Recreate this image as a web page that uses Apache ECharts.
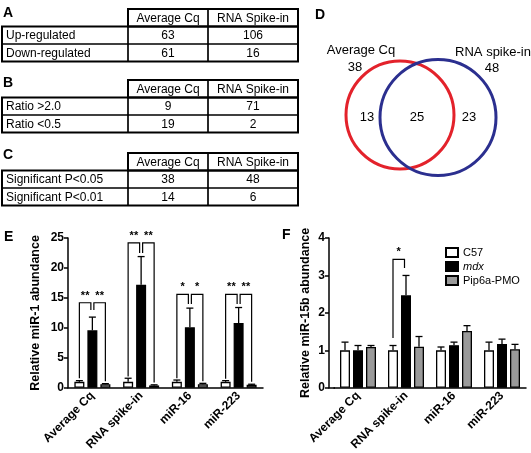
<!DOCTYPE html>
<html>
<head>
<meta charset="utf-8">
<script src="https://cdn.jsdelivr.net/npm/echarts@6/dist/echarts.min.js"></script>
<style>html,body{margin:0;padding:0;background:#fff}#main{width:531px;height:453px}</style>
</head>
<body>
<div id="main"></div>
<script>
// tables A-C
var tableHead = ['Average Cq', 'RNA Spike-in'];
var rowsA = ['Up-regulated', 'Down-regulated'], avgA = [63, 61], spikeA = [106, 16];
var rowsB = ['Ratio >2.0', 'Ratio <0.5'], avgB = [9, 19], spikeB = [71, 2];
var rowsC = ['Significant P<0.05', 'Significant P<0.01'], avgC = [38, 14], spikeC = [48, 6];

// venn D
var vennSets = ['Average Cq', 'RNA spike-in'];
var vennTotals = [38, 48];
var vennOnlyAvg = 13, vennBoth = 25, vennOnlySpike = 23;

// bar charts E / F
var cats = ['Average Cq', 'RNA spike-in', 'miR-16', 'miR-223'];
var groups = ['C57', 'mdx', 'Pip6a-PMO'];

var miR1_c57 = [1.0, 1.0, 1.0, 1.0];
var miR1_c57Err = [0.2, 0.6, 0.3, 0.2];
var miR1_mdx = [9.6, 17.2, 10.1, 10.8];
var miR1_mdxErr = [2.2, 4.7, 3.2, 2.6];
var miR1_pip = [0.6, 0.4, 0.6, 0.5];
var miR1_pipErr = [0.1, 0.1, 0.15, 0.1];

var miR15b_c57 = [1.0, 1.0, 1.0, 1.0];
var miR15b_c57Err = [0.22, 0.13, 0.09, 0.22];
var miR15b_mdx = [1.0, 2.47, 1.14, 1.17];
var miR15b_mdxErr = [0.13, 0.53, 0.08, 0.13];
var miR15b_pip = [1.09, 1.1, 1.52, 1.03];
var miR15b_pipErr = [0.04, 0.27, 0.14, 0.13];

// significance brackets: [category, side (0 = C57 vs mdx, 1 = mdx vs Pip6a), level, outer leg end, inner leg end]
var sigE = [[0, 0, 14.2, 1.6, 13.0], [0, 1, 14.2, 1.1, 13.0],
            [1, 0, 24.2, 1.9, 22.5], [1, 1, 24.2, 0.9, 22.5],
            [2, 0, 15.6, 1.6, 14.0], [2, 1, 15.6, 1.1, 14.0],
            [3, 0, 15.6, 1.5, 14.0], [3, 1, 15.6, 1.0, 14.0]];
var sigELabels = ['**', '**', '**', '**', '*', '*', '**', '**'];
var sigF = [[1, 0, 3.43, 1.33, 3.2]];
var sigFLabels = ['*'];

var FONT = '"Liberation Sans", Arial, sans-serif';
var BAR_W = 10, BAR_GAP = 3, STEP = BAR_W + BAR_GAP;
var colors = ['#ffffff', '#000000', '#9a9a9a'];

var myChart = echarts.init(document.getElementById('main'));

/* tables as graphic elements */
function rect(x, y, w, h, lw) {
	return { type: 'rect', shape: { x: x, y: y, width: w, height: h },
		style: { fill: 'none', stroke: '#000', lineWidth: lw } };
}
function txt(s, x, y, align, size, bold) {
	return { type: 'text', style: { text: String(s), x: x, y: y, align: align, verticalAlign: 'middle',
		fontFamily: FONT, fontSize: size, fontWeight: bold ? 'bold' : 'normal', fill: '#000' } };
}
function makeTable(top, rows, avg, spike) {
	var x0 = 2, x1 = 128, x2 = 208, x3 = 298, h = 17.5;
	var els = [];
	els.push(rect(x1, top, x2 - x1, h, 1.2), rect(x2, top, x3 - x2, h, 1.2));
	els.push(txt(tableHead[0], (x1 + x2) / 2, top + h / 2 + 0.5, 'center', 12));
	els.push(txt(tableHead[1], (x2 + x3) / 2, top + h / 2 + 0.5, 'center', 12));
	for (var i = 0; i < rows.length; i++) {
		var y = top + h * (i + 1);
		els.push(rect(x0, y, x1 - x0, h, 1.2), rect(x1, y, x2 - x1, h, 1.2), rect(x2, y, x3 - x2, h, 1.2));
		els.push(txt(rows[i], x0 + 4, y + h / 2 + 0.5, 'left', 12));
		els.push(txt(avg[i], (x1 + x2) / 2, y + h / 2 + 0.5, 'center', 12));
		els.push(txt(spike[i], (x2 + x3) / 2, y + h / 2 + 0.5, 'center', 12));
	}
	els.push(rect(x1, top, x3 - x1, h, 2));
	els.push(rect(x0, top + h, x3 - x0, h * rows.length, 2));
	return els;
}

var graphics = [].concat(
	makeTable(9, rowsA, avgA, spikeA),
	makeTable(80, rowsB, avgB, spikeB),
	makeTable(153, rowsC, avgC, spikeC),
	[
		txt('A', 3, 13, 'left', 14, true),
		txt('B', 3, 83, 'left', 14, true),
		txt('C', 3, 155, 'left', 14, true),
		txt('D', 315, 15, 'left', 14, true),
		txt('E', 4, 237, 'left', 14, true),
		txt('F', 282, 235, 'left', 14, true),
		{ type: 'line', shape: { x1: 328.5, y1: 388, x2: 335, y2: 388 }, style: { stroke: '#000', lineWidth: 1.5 } }
	]
);

/* series helpers */
function barSeries(name, data, color, xi) {
	return { name: name, type: 'bar', xAxisIndex: xi, yAxisIndex: xi, data: data,
		barWidth: BAR_W, barGap: '30%', itemStyle: { color: color, borderColor: '#000', borderWidth: 1.3 } };
}
function errSeries(g, means, errs, xi) {
	return {
		name: 'err', type: 'custom', xAxisIndex: xi, yAxisIndex: xi, z: 3,
		data: means.map(function (m, i) { return [i, m, m + errs[i]]; }),
		encode: { x: 0, y: [1, 2] },
		renderItem: function (params, api) {
			var p0 = api.coord([api.value(0), api.value(1)]);
			var p1 = api.coord([api.value(0), api.value(2)]);
			var x = p0[0] + (g - 1) * STEP;
			var st = { stroke: '#000', lineWidth: 1.3 };
			return { type: 'group', children: [
				{ type: 'line', shape: { x1: x, y1: p0[1], x2: x, y2: p1[1] }, style: st },
				{ type: 'line', shape: { x1: x - 3.5, y1: p1[1], x2: x + 3.5, y2: p1[1] }, style: st }
			] };
		}
	};
}
function sigSeries(data, labels, xi) {
	return {
		name: 'sig', type: 'custom', xAxisIndex: xi, yAxisIndex: xi, z: 4,
		data: data, encode: { x: 0, y: 2 },
		renderItem: function (params, api) {
			var side = api.value(1);
			var c = api.coord([api.value(0), api.value(2)]);
			var yOuter = api.coord([api.value(0), api.value(3)])[1];
			var yInner = api.coord([api.value(0), api.value(4)])[1];
			var pts;
			if (side === 0) {
				var xa = c[0] - STEP, xb = c[0] - 1.5;
				pts = [[xa, yOuter], [xa, c[1]], [xb, c[1]], [xb, yInner]];
			} else {
				var xa = c[0] + 1.5, xb = c[0] + STEP;
				pts = [[xa, yInner], [xa, c[1]], [xb, c[1]], [xb, yOuter]];
			}
			return { type: 'group', children: [
				{ type: 'polyline', shape: { points: pts }, style: { stroke: '#000', lineWidth: 1.2, fill: 'none' } },
				{ type: 'text', style: { text: labels[params.dataIndex], x: (pts[0][0] + pts[3][0]) / 2, y: c[1] - 7,
					align: 'center', verticalAlign: 'middle', fontFamily: FONT, fontSize: 11, fontWeight: 'bold', fill: '#000' } }
			] };
		}
	};
}

function catAxis(gi) {
	return { gridIndex: gi, type: 'category', data: cats,
		axisLine: { lineStyle: { color: '#000', width: 1.5 } },
		axisTick: { alignWithLabel: true, length: 4, lineStyle: { color: '#000', width: 1.5 } },
		axisLabel: { rotate: 45, interval: 0, margin: 6, fontFamily: FONT, fontWeight: 'bold', fontSize: 12, color: '#000' } };
}
function valAxis(gi, max, interval, name, offset, gap) {
	return { gridIndex: gi, type: 'value', min: 0, max: max, interval: interval, offset: offset,
		axisLine: { show: true, lineStyle: { color: '#000', width: 1.5 } },
		axisTick: { show: true, length: 4, lineStyle: { color: '#000', width: 1.5 } },
		splitLine: { show: false },
		axisLabel: { margin: 4, fontFamily: FONT, fontWeight: 'bold', fontSize: 12, color: '#000' },
		name: name, nameLocation: 'middle', nameRotate: 90, nameGap: gap,
		nameTextStyle: { fontFamily: FONT, fontWeight: 'bold', fontSize: 12.5, color: '#000' } };
}

var option = {
	animation: false,
	graphic: graphics,
	grid: [
		{ left: 68, right: 268, top: 238, bottom: 65 },
		{ left: 334, right: 5, top: 238, bottom: 65 },
		{ left: 300, top: 40, width: 231, height: 150 }
	],
	legend: {
		data: groups, orient: 'vertical', left: 440, top: 242, itemWidth: 12, itemHeight: 9, itemGap: 3,
		icon: 'rect',
		textStyle: { fontFamily: FONT, fontSize: 11, color: '#000',
			rich: { i: { fontStyle: 'italic', fontFamily: FONT, fontSize: 11 } } },
		formatter: function (n) { return n === 'mdx' ? '{i|mdx}' : n; }
	},
	xAxis: [catAxis(0), catAxis(1),
		{ gridIndex: 2, type: 'value', min: 0, max: 231, show: false }],
	yAxis: [valAxis(0, 25, 5, 'Relative miR-1 abundance', 0, 26),
		valAxis(1, 4, 1, 'Relative miR-15b abundance', 5, 17),
		{ gridIndex: 2, type: 'value', min: 0, max: 150, inverse: true, show: false }],
	series: [
		barSeries(groups[0], miR1_c57, colors[0], 0),
		barSeries(groups[1], miR1_mdx, colors[1], 0),
		barSeries(groups[2], miR1_pip, colors[2], 0),
		errSeries(0, miR1_c57, miR1_c57Err, 0),
		errSeries(1, miR1_mdx, miR1_mdxErr, 0),
		errSeries(2, miR1_pip, miR1_pipErr, 0),
		sigSeries(sigE, sigELabels, 0),
		barSeries(groups[0], miR15b_c57, colors[0], 1),
		barSeries(groups[1], miR15b_mdx, colors[1], 1),
		barSeries(groups[2], miR15b_pip, colors[2], 1),
		errSeries(0, miR15b_c57, miR15b_c57Err, 1),
		errSeries(1, miR15b_mdx, miR15b_mdxErr, 1),
		errSeries(2, miR15b_pip, miR15b_pipErr, 1),
		sigSeries(sigF, sigFLabels, 1),
		/* venn circles */
		{ name: 'vennA', type: 'scatter', xAxisIndex: 2, yAxisIndex: 2, symbolSize: 108, z: 2,
			data: [[100, 75]], itemStyle: { color: 'transparent', borderColor: '#e3222b', borderWidth: 3, opacity: 1 } },
		{ name: 'vennB', type: 'scatter', xAxisIndex: 2, yAxisIndex: 2, symbolSize: 116, z: 3,
			data: [[138, 77.5]], itemStyle: { color: 'transparent', borderColor: '#2b2f8f', borderWidth: 3, opacity: 1 } },
		{ name: 'vennCounts', type: 'scatter', xAxisIndex: 2, yAxisIndex: 2, symbolSize: 1,
			itemStyle: { color: 'transparent', opacity: 1 },
			label: { show: true, position: 'inside', fontFamily: FONT, fontSize: 13, color: '#000', opacity: 1,
				formatter: function (p) { return p.value[2]; } },
			data: [[67, 77, vennOnlyAvg], [117, 77, vennBoth], [169, 77, vennOnlySpike]] },
		{ name: 'vennNames', type: 'scatter', xAxisIndex: 2, yAxisIndex: 2, symbolSize: 1,
			itemStyle: { color: 'transparent', opacity: 1 },
			label: { show: true, position: 'inside', fontFamily: FONT, fontSize: 13, color: '#000', opacity: 1, formatter: '{b}' },
			data: [{ name: vennSets[0], value: [61, 10] }, { name: String(vennTotals[0]), value: [55, 27] },
				{ name: vennSets[1], value: [193, 12] }, { name: String(vennTotals[1]), value: [192, 28] }] }
	]
};
myChart.setOption(option);
</script>
</body>
</html>
